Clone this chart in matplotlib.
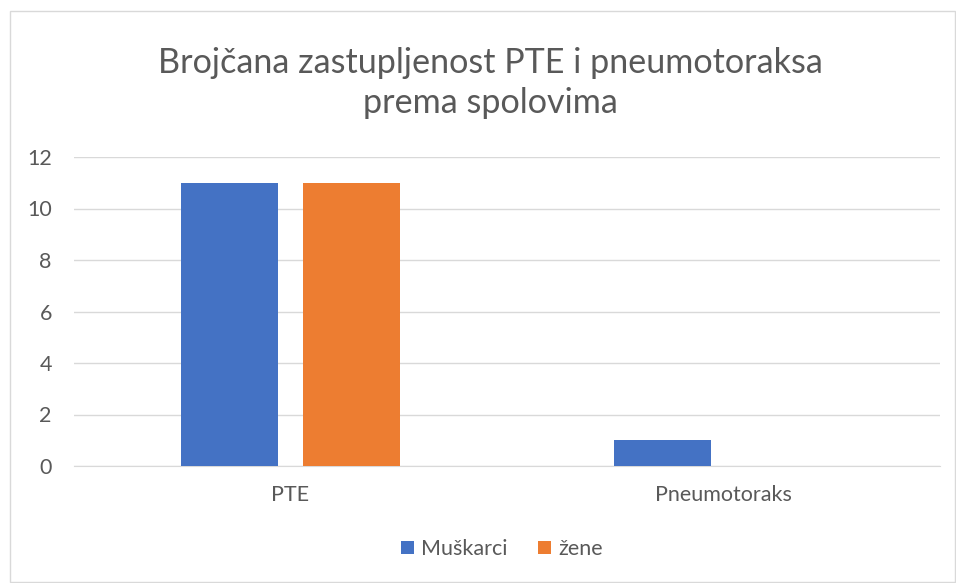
import matplotlib
matplotlib.use("Agg")
import matplotlib.pyplot as plt
import numpy as np
from matplotlib.patches import Rectangle

categories = ["PTE", "Pneumotoraks"]
muskarci = [11, 1]
zene = [11, 0]
series_names = ["Muškarci", "žene"]
title = "Brojčana zastupljenost PTE i pneumotoraksa\nprema spolovima"
yticks = [0, 2, 4, 6, 8, 10, 12]

plt.rcParams['font.family'] = ['Lato', 'DejaVu Sans']
W, H = 956, 583
fig = plt.figure(figsize=(W/100, H/100), dpi=100)

# outer chart border
fig.patches.append(Rectangle((10/W, 1/H), (W-11)/W, (H-12)/H, transform=fig.transFigure,
                             fill=False, edgecolor='#D9D9D9', linewidth=1))

ax = fig.add_axes([74/W, 1-466/H, (940-74)/W, (466-157)/H])
x = np.arange(len(categories))
bw = 0.224
off = 0.142
ax.bar(x - off, muskarci, bw, color='#4472C4', label=series_names[0], zorder=3)
ax.bar(x + off, zene, bw, color='#ED7D31', label=series_names[1], zorder=3)

ax.set_xlim(-0.5, 1.5)
ax.set_ylim(0, 12)
ax.set_yticks(yticks)
ax.set_xticks(x)
ax.set_xticklabels(categories)
ax.grid(axis='y', color='#D9D9D9', linewidth=1, zorder=0)
for s in ['top', 'right', 'left']:
    ax.spines[s].set_visible(False)
ax.spines['bottom'].set_color('#D9D9D9')
ax.tick_params(axis='both', length=0, colors='#595959', labelsize=15.5)
ax.tick_params(axis='y', pad=16)
ax.tick_params(axis='x', pad=14)

fig.text(490/W, 1-83/H, title, ha='center', va='center', fontsize=24.6,
         color='#595959', linespacing=1.32)

leg = fig.legend(loc='center', bbox_to_anchor=(502/W, 1-549/H), ncol=2, frameon=False,
                 fontsize=15.5, handlelength=0.6, handleheight=0.6, columnspacing=1.4,
                 handletextpad=0.35, labelcolor='#595959')

fig.savefig("out.png", dpi=100)
